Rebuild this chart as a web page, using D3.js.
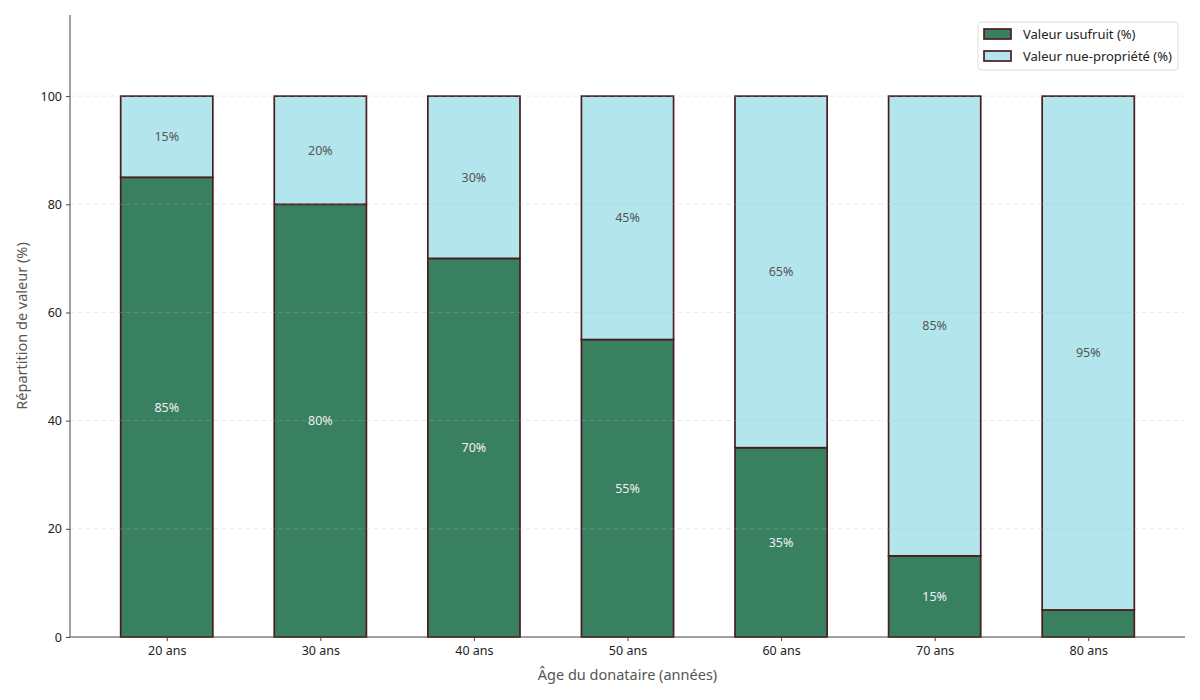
<!DOCTYPE html>
<html><head><meta charset="utf-8">
<script src="https://cdn.jsdelivr.net/npm/d3@7"></script>
<style>body{margin:0;background:#fff;} text{font-family:"Noto Sans","Open Sans",sans-serif;}</style>
</head><body>
<svg id="c" width="1200" height="700"></svg>
<script>
const categories = ["20 ans","30 ans","40 ans","50 ans","60 ans","70 ans","80 ans"];
const usufruit = [85,80,70,55,35,15,5];
const nuePropriete = [15,20,30,45,65,85,95];
const yTicks = [0,20,40,60,80,100];
const seriesNames = ["Valeur usufruit (%)","Valeur nue-propriété (%)"];

const svg = d3.select("#c");
const L=70,R=1185,T=15,B=637;
const x = d3.scaleLinear().domain([-0.63, categories.length-1+0.63]).range([L,R]);
const y = d3.scaleLinear().domain([0,115]).range([B,T]);
const bw = (x(1)-x(0))*0.6;
const green="#388060", blue="#b3e5ec", edge="#4a1c22";

const g = svg.append("g");
categories.forEach((c,i)=>{
  const u=usufruit[i], n=nuePropriete[i];
  g.append("rect").attr("x",x(i)-bw/2).attr("y",y(u)).attr("width",bw).attr("height",y(0)-y(u))
    .attr("fill",green).attr("stroke",edge).attr("stroke-width",1.7);
  g.append("rect").attr("x",x(i)-bw/2).attr("y",y(u+n)).attr("width",bw).attr("height",y(u)-y(u+n))
    .attr("fill",blue).attr("stroke",edge).attr("stroke-width",1.7);
  if(u>=10) g.append("text").attr("x",x(i)).attr("y",y(u/2)).attr("dy","0.35em").attr("text-anchor","middle")
    .attr("font-size",12.5).attr("fill","#f0f0f0").text(u+"%");
  if(n>=10) g.append("text").attr("x",x(i)).attr("y",y(u+n/2)).attr("dy","0.35em").attr("text-anchor","middle")
    .attr("font-size",12.5).attr("fill","#555").text(n+"%");
});

// grid on top
yTicks.filter(t=>t>0).forEach(t=>{
  svg.append("line").attr("x1",L).attr("x2",R).attr("y1",y(t)).attr("y2",y(t))
    .attr("stroke","#bbb").attr("stroke-opacity",0.35).attr("stroke-dasharray","5,3").attr("stroke-width",0.8);
});

// axes
const yAxis = svg.append("g").attr("transform",`translate(${L},0)`)
  .call(d3.axisLeft(y).tickValues(yTicks).tickSize(4).tickPadding(4));
yAxis.select(".domain").attr("d",`M0,${T}V${B}`).attr("stroke","#444");
yAxis.selectAll("text").attr("font-size",12.5).attr("fill","#222");
yAxis.selectAll(".tick line").attr("stroke","#444");

const xAxis = svg.append("g").attr("transform",`translate(0,${B})`)
  .call(d3.axisBottom(x).tickValues(d3.range(categories.length)).tickFormat(i=>categories[i]).tickSize(4).tickPadding(5));
xAxis.select(".domain").attr("d",`M${L},0H${R}`).attr("stroke","#444");
xAxis.selectAll("text").attr("font-size",12.5).attr("fill","#222");
xAxis.selectAll(".tick line").attr("stroke","#444");

svg.append("text").attr("x",(L+R)/2).attr("y",680).attr("text-anchor","middle")
  .attr("font-size",14.5).attr("fill","#555").text("Âge du donataire (années)");
svg.append("text").attr("transform",`translate(27,${(T+B)/2}) rotate(-90)`).attr("text-anchor","middle")
  .attr("font-size",14.5).attr("fill","#555").text("Répartition de valeur (%)");

// legend
const lg = svg.append("g");
lg.append("rect").attr("x",978).attr("y",22).attr("width",200).attr("height",48).attr("rx",3)
  .attr("fill","#fff").attr("stroke","#ddd");
[green,blue].forEach((col,k)=>{
  const yy = 34 + k*22;
  lg.append("rect").attr("x",984).attr("y",yy-5).attr("width",27).attr("height",10)
    .attr("fill",col).attr("stroke",edge).attr("stroke-width",1.7);
  lg.append("text").attr("x",1023).attr("y",yy).attr("dy","0.35em").attr("font-size",13)
    .attr("fill","#222").text(seriesNames[k]);
});
</script>
</body></html>
